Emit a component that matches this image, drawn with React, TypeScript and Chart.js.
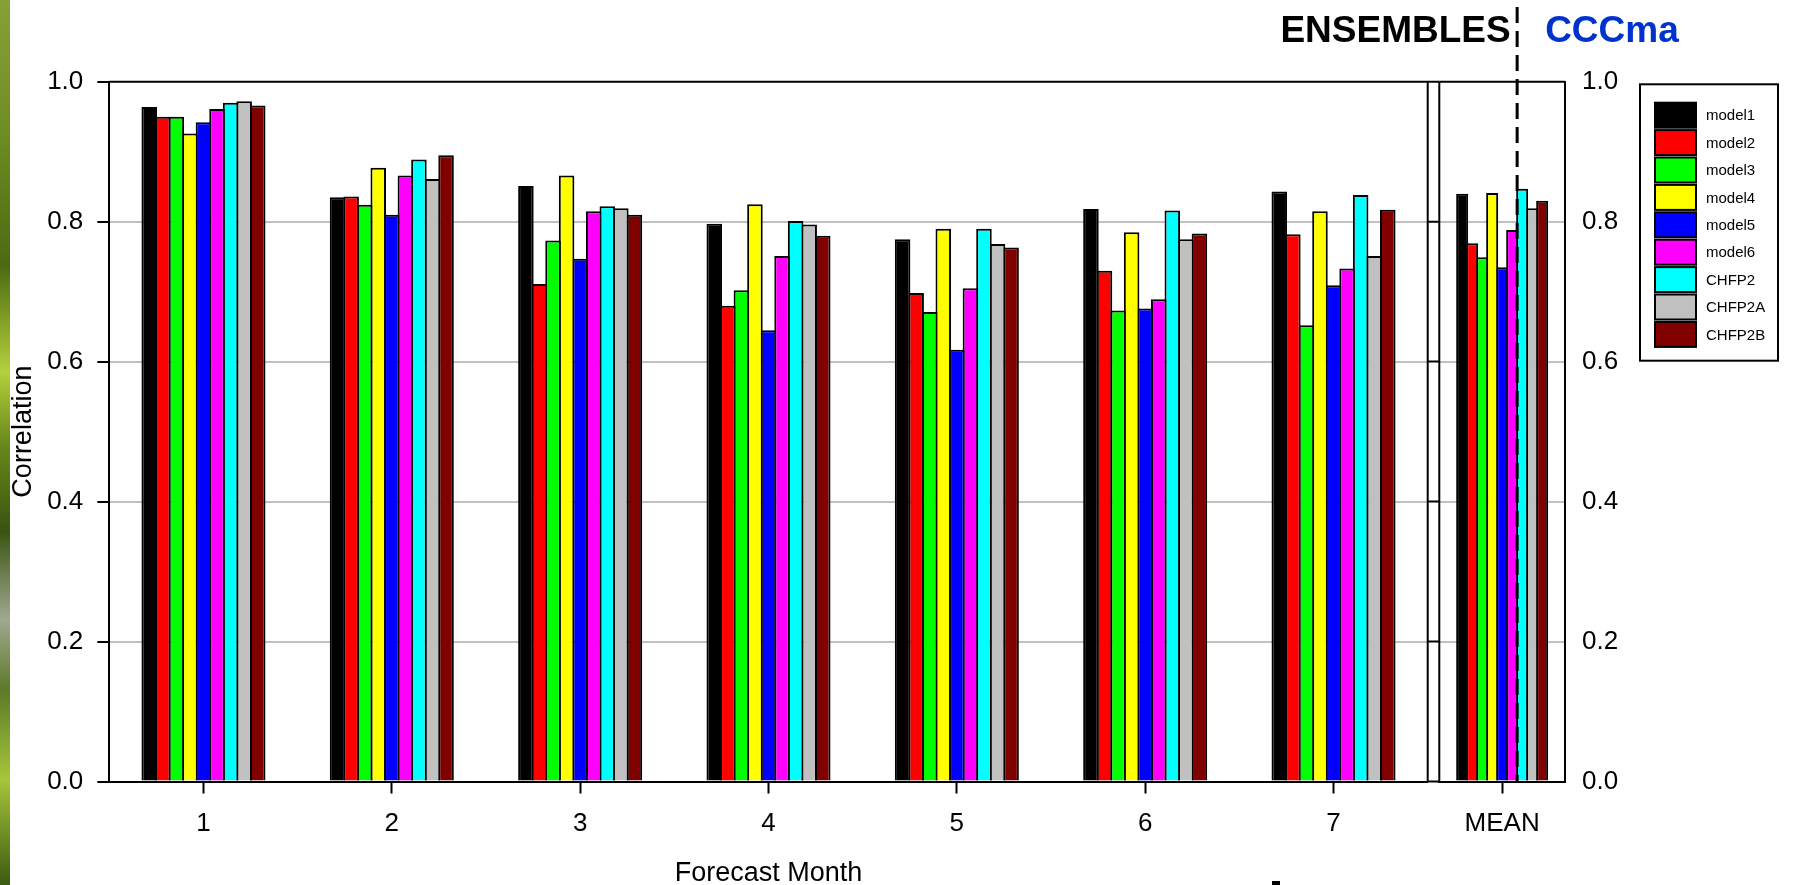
import React, { useEffect, useRef } from "react";
import { Chart, registerables } from "chart.js";

Chart.register(...registerables);

// ---- data ----------------------------------------------------------------
const monthLabels = ["1", "2", "3", "4", "5", "6", "7"];
const meanLabels = ["MEAN"];
const seriesNames = ["model1", "model2", "model3", "model4", "model5", "model6", "CHFP2", "CHFP2A", "CHFP2B"];
const seriesColors = ["#000000", "#ff0000", "#00ff00", "#ffff00", "#0000ff", "#ff00ff", "#00ffff", "#c0c0c0", "#800000"];

// correlation for forecast months 1..7
const model1 = [0.964, 0.835, 0.851, 0.797, 0.775, 0.818, 0.843];
const model2 = [0.950, 0.836, 0.711, 0.680, 0.698, 0.730, 0.782];
const model3 = [0.950, 0.824, 0.773, 0.702, 0.671, 0.673, 0.652];
const model4 = [0.926, 0.877, 0.866, 0.825, 0.790, 0.785, 0.815];
const model5 = [0.942, 0.810, 0.747, 0.645, 0.617, 0.676, 0.709];
const model6 = [0.961, 0.866, 0.815, 0.751, 0.705, 0.689, 0.733];
const chfp2 = [0.970, 0.889, 0.822, 0.801, 0.790, 0.816, 0.838];
const chfp2a = [0.972, 0.861, 0.819, 0.796, 0.768, 0.775, 0.751];
const chfp2b = [0.966, 0.895, 0.810, 0.780, 0.763, 0.783, 0.817];
const monthlySeries = [model1, model2, model3, model4, model5, model6, chfp2, chfp2a, chfp2b];

// mean over all months, one value per model (same order as seriesNames)
const meanValues = [0.840, 0.769, 0.749, 0.841, 0.735, 0.788, 0.847, 0.819, 0.830];

const yTicks = [0, 0.2, 0.4, 0.6, 0.8, 1.0];
const groupTitles = ["ENSEMBLES", "CCCma"];
const xTitle = "Forecast Month";
const yTitle = "Correlation";

// ---- layout ----------------------------------------------------------------
const W = 1805;
const H = 885;
const PLOT_TOP = 81.7;
const PLOT_BOTTOM = 781.5;
const LEFT_AXIS_W = 109.3;
const PANEL_L_RIGHT = 1427.7;
const PANEL_GAP = 11.6;
const PANEL_R_RIGHT = 1565;
const LEGEND = { x: 1640, y: 84.3, w: 138, h: 276.4, swX: 1655, swY: 102.7, swW: 41, swH: 25, pitch: 27.4, textX: 1706 };
const FONT = '"Liberation Sans", Arial, Helvetica, sans-serif';

const gridColor = (c: any) => {
  const v = c.tick ? c.tick.value : null;
  return v === 0 || (v !== null && Math.abs(v - 1) < 1e-9) ? "rgba(0,0,0,0)" : "#c0c0c0";
};

const yTickLabel = (v: any) => Number(v).toFixed(1);

export default function App() {
  const leftRef = useRef<HTMLCanvasElement>(null);
  const rightRef = useRef<HTMLCanvasElement>(null);

  useEffect(() => {
    document.body.style.margin = "0";
    Chart.defaults.font.family = FONT;
    Chart.defaults.color = "#000";

    const barStyle = { borderColor: "#000", borderWidth: 2 };

    // monthly panel: left axis, months 1..7
    const leftPlugin = {
      id: "monthFrame",
      afterDraw(chart: any) {
        const { ctx, chartArea: a, scales } = chart;
        ctx.save();
        ctx.strokeStyle = "#000";
        ctx.lineWidth = 2;
        ctx.beginPath();
        ctx.moveTo(a.left, a.top);
        ctx.lineTo(a.right + PANEL_GAP, a.top);
        ctx.moveTo(a.right, a.top);
        ctx.lineTo(a.right, a.bottom);
        ctx.moveTo(a.right, a.bottom);
        ctx.lineTo(a.right + PANEL_GAP, a.bottom);
        for (const v of yTicks) {
          if (v > 0 && v < 1) {
            const py = scales.y.getPixelForValue(v);
            ctx.moveTo(a.right, py);
            ctx.lineTo(a.right + PANEL_GAP, py);
          }
        }
        ctx.stroke();
        ctx.restore();
      },
    };

    const left = new Chart(leftRef.current as HTMLCanvasElement, {
      type: "bar",
      data: {
        labels: monthLabels,
        datasets: monthlySeries.map((vals, i) => ({
          label: seriesNames[i],
          data: vals,
          backgroundColor: seriesColors[i],
          ...barStyle,
          categoryPercentage: 0.648,
          barPercentage: 1.147,
        })),
      },
      options: {
        responsive: false,
        devicePixelRatio: 1,
        animation: false,
        events: [],
        layout: { padding: { left: 0, right: W - PANEL_L_RIGHT, top: PLOT_TOP, bottom: 0 } },
        plugins: { legend: { display: false }, tooltip: { enabled: false } },
        scales: {
          x: {
            type: "category",
            offset: true,
            grid: { display: true, offset: false, drawOnChartArea: false, drawTicks: true, tickLength: 12, tickWidth: 2, tickColor: "#000" },
            border: { display: true, color: "#000", width: 2 },
            ticks: { font: { size: 26 }, color: "#000", padding: 15, maxRotation: 0 },
            title: { display: true, text: xTitle, font: { size: 27 }, color: "#000", padding: { top: 0, bottom: -5 } },
            afterFit: (s: any) => {
              s.height = H - PLOT_BOTTOM;
            },
          },
          y: {
            min: 0,
            max: 1,
            position: "left",
            grid: { color: gridColor, lineWidth: 2, drawTicks: true, tickLength: 12, tickWidth: 2, tickColor: "#000" },
            border: { display: true, color: "#000", width: 2 },
            ticks: { stepSize: 0.2, font: { size: 26 }, color: "#000", padding: 14, callback: yTickLabel },
            title: { display: true, text: yTitle, font: { size: 27 }, color: "#000", padding: { top: 7, bottom: 0 } },
            afterFit: (s: any) => {
              s.width = LEFT_AXIS_W;
            },
          },
        },
      },
      plugins: [leftPlugin],
    } as any);

    // mean panel: right axis, group separator, headings and legend
    const rightPlugin = {
      id: "meanFrame",
      afterDraw(chart: any) {
        const { ctx, chartArea: a } = chart;
        ctx.save();
        ctx.strokeStyle = "#000";
        ctx.lineWidth = 2;
        ctx.beginPath();
        ctx.moveTo(a.left, a.top);
        ctx.lineTo(a.right, a.top);
        ctx.moveTo(a.left, a.top);
        ctx.lineTo(a.left, a.bottom);
        ctx.stroke();

        // dashed separator between the ENSEMBLES models and the CCCma systems
        const lastEns = chart.getDatasetMeta(5).data[0];
        const firstCcc = chart.getDatasetMeta(6).data[0];
        const sepX = (lastEns.x + firstCcc.x) / 2;
        ctx.lineWidth = 3;
        ctx.setLineDash([16, 8]);
        ctx.beginPath();
        ctx.moveTo(sepX, 7);
        ctx.lineTo(sepX, a.bottom);
        ctx.stroke();
        ctx.setLineDash([]);

        ctx.font = `bold 37px ${FONT}`;
        ctx.textBaseline = "alphabetic";
        ctx.fillStyle = "#000";
        ctx.textAlign = "right";
        ctx.fillText(groupTitles[0], sepX - 6.5, 41.7);
        ctx.fillStyle = "#0033cc";
        ctx.textAlign = "left";
        ctx.fillText(groupTitles[1], sepX + 28, 41.7);

        // legend
        const L = LEGEND;
        ctx.fillStyle = "#fff";
        ctx.fillRect(L.x, L.y, L.w, L.h);
        ctx.strokeStyle = "#000";
        ctx.lineWidth = 2;
        ctx.strokeRect(L.x, L.y, L.w, L.h);
        ctx.font = `15px ${FONT}`;
        ctx.textBaseline = "middle";
        ctx.textAlign = "left";
        chart.data.datasets.forEach((ds: any, i: number) => {
          const sy = L.swY + i * L.pitch;
          ctx.fillStyle = ds.backgroundColor;
          ctx.fillRect(L.swX, sy, L.swW, L.swH);
          ctx.strokeRect(L.swX, sy, L.swW, L.swH);
          ctx.fillStyle = "#000";
          ctx.fillText(ds.label, L.textX, sy + L.swH / 2 + 1);
        });
        ctx.restore();
      },
    };

    const right = new Chart(rightRef.current as HTMLCanvasElement, {
      type: "bar",
      data: {
        labels: meanLabels,
        datasets: meanValues.map((v, i) => ({
          label: seriesNames[i],
          data: [v],
          backgroundColor: seriesColors[i],
          ...barStyle,
          categoryPercentage: 0.716,
          barPercentage: 1.2,
        })),
      },
      options: {
        responsive: false,
        devicePixelRatio: 1,
        animation: false,
        events: [],
        layout: { padding: { left: PANEL_L_RIGHT + PANEL_GAP, right: 0, top: PLOT_TOP, bottom: 0 } },
        plugins: { legend: { display: false }, tooltip: { enabled: false } },
        scales: {
          x: {
            type: "category",
            offset: true,
            grid: { display: true, offset: false, drawOnChartArea: false, drawTicks: true, tickLength: 12, tickWidth: 2, tickColor: "#000" },
            border: { display: true, color: "#000", width: 2 },
            ticks: { font: { size: 26 }, color: "#000", padding: 15, maxRotation: 0 },
            afterFit: (s: any) => {
              s.height = H - PLOT_BOTTOM;
            },
          },
          y: {
            min: 0,
            max: 1,
            position: "right",
            grid: { color: gridColor, lineWidth: 2, drawTicks: false },
            border: { display: true, color: "#000", width: 2 },
            ticks: { stepSize: 0.2, font: { size: 26 }, color: "#000", padding: 17, callback: yTickLabel },
            afterFit: (s: any) => {
              s.width = W - PANEL_R_RIGHT;
            },
          },
        },
      },
      plugins: [rightPlugin],
    } as any);

    return () => {
      left.destroy();
      right.destroy();
    };
  }, []);

  return (
    <div style={{ position: "fixed", left: 0, top: 0, width: W, height: H, background: "#fff", overflow: "hidden" }}>
      <div
        style={{
          position: "absolute",
          left: 0,
          top: 0,
          width: 10,
          height: H,
          background:
            "linear-gradient(180deg, #86a236 0%, #6f8c24 15%, #4c6a12 30%, #b4d03c 42%, #6a8a1c 50%, #3a5410 60%, #a0a890 70%, #5c7a28 78%, #a6c63a 88%, #3c5a12 100%)",
        }}
      />
      <canvas ref={leftRef} width={W} height={H} style={{ position: "absolute", left: 0, top: 0 }} />
      <canvas ref={rightRef} width={W} height={H} style={{ position: "absolute", left: 0, top: 0 }} />
      <div style={{ position: "absolute", left: 1272, top: 881, width: 8, height: 4, background: "#000" }} />
    </div>
  );
}
